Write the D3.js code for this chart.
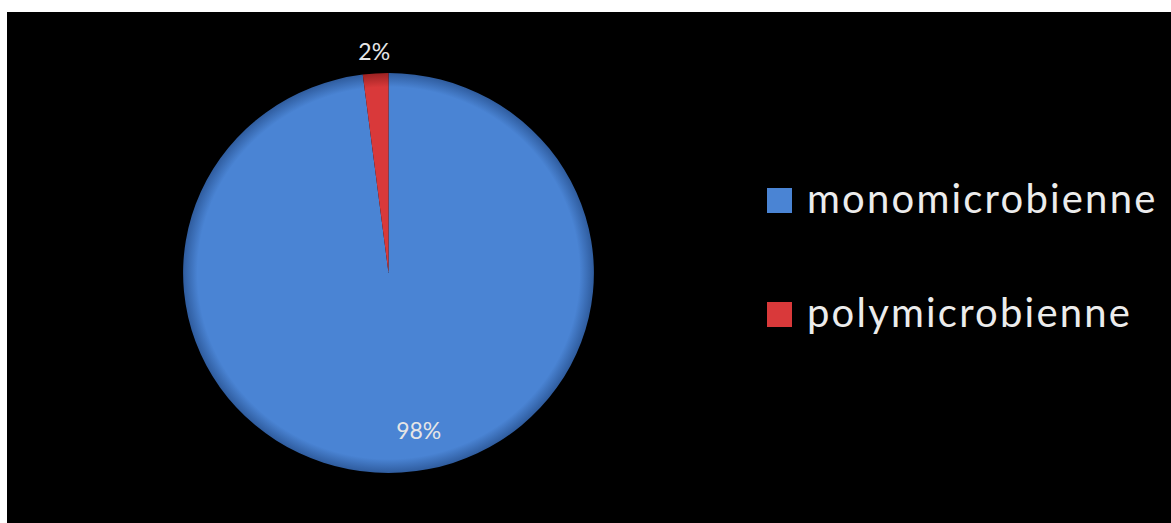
<!DOCTYPE html>
<html>
<head>
<meta charset="utf-8">
<script src="https://cdn.jsdelivr.net/npm/d3@7"></script>
<style>
  html, body { margin: 0; padding: 0; background: #ffffff; }
  svg { display: block; }
</style>
</head>
<body>
<svg id="chart" width="1171" height="523"></svg>
<script>
// Share of infections by number of microbes involved
const categories = ["monomicrobienne", "polymicrobienne"];
const values = [98, 2];
const valueLabels = ["98%", "2%"];
const colors = ["#4a84d4", "#d9393a"];
const edgeColors = ["#2f5c9e", "#9c2222"];

const svg = d3.select("#chart");

// black chart area
svg.append("rect")
  .attr("x", 7).attr("y", 12)
  .attr("width", 1164).attr("height", 511)
  .attr("fill", "#000000");

const defs = svg.append("defs");
categories.forEach((c, i) => {
  const g = defs.append("radialGradient")
    .attr("id", "shade" + i)
    .attr("gradientUnits", "userSpaceOnUse")
    .attr("cx", 0).attr("cy", 0).attr("r", 200);
  g.append("stop").attr("offset", "0%").attr("stop-color", colors[i]);
  g.append("stop").attr("offset", "93%").attr("stop-color", colors[i]);
  g.append("stop").attr("offset", "100%").attr("stop-color", edgeColors[i]);
});

const radius = 200;
const cx = 388.5, cy = 273;
const sx = 1.027;

const pie = d3.pie().sort(null).value(d => d);
const arc = d3.arc().innerRadius(0).outerRadius(radius);
const arcs = pie(values);

const gPie = svg.append("g")
  .attr("transform", `translate(${cx},${cy}) scale(${sx},1)`);

gPie.selectAll("path.slice")
  .data(arcs)
  .join("path")
  .attr("class", "slice")
  .attr("d", arc)
  .attr("fill", (d, i) => `url(#shade${i})`);

// value labels: large slice inside near the bottom, small slice just outside the rim
const insideArc = d3.arc().innerRadius(radius * 0.79).outerRadius(radius * 0.79);
const outsideArc = d3.arc().innerRadius(radius * 1.11).outerRadius(radius * 1.11);
const labelShift = [20, 0];

svg.append("g")
  .attr("transform", `translate(${cx},${cy})`)
  .selectAll("text")
  .data(arcs)
  .join("text")
  .attr("transform", (d, i) => {
    const p = (i === 0 ? insideArc : outsideArc).centroid(d);
    return `translate(${p[0] * sx + labelShift[i]},${p[1]})`;
  })
  .attr("text-anchor", "middle")
  .attr("dy", "0.35em")
  .attr("font-family", "Lato, 'Open Sans', sans-serif")
  .attr("font-size", 23)
  .attr("fill", "#e6e6e6")
  .text((d, i) => valueLabels[i]);

// legend
const legendY = d3.scalePoint().domain(categories).range([213, 327]);
const legend = svg.append("g")
  .selectAll("g")
  .data(categories)
  .join("g")
  .attr("transform", d => `translate(767,${legendY(d)})`);

legend.append("rect")
  .attr("x", 0).attr("y", -25)
  .attr("width", 25).attr("height", 25)
  .attr("fill", (d, i) => colors[i]);

legend.append("text")
  .attr("x", 40).attr("y", 0)
  .attr("font-family", "Lato, 'Open Sans', sans-serif")
  .attr("font-size", 40)
  .attr("letter-spacing", 2.2)
  .attr("fill", "#ececec")
  .text(d => d);
</script>
</body>
</html>
